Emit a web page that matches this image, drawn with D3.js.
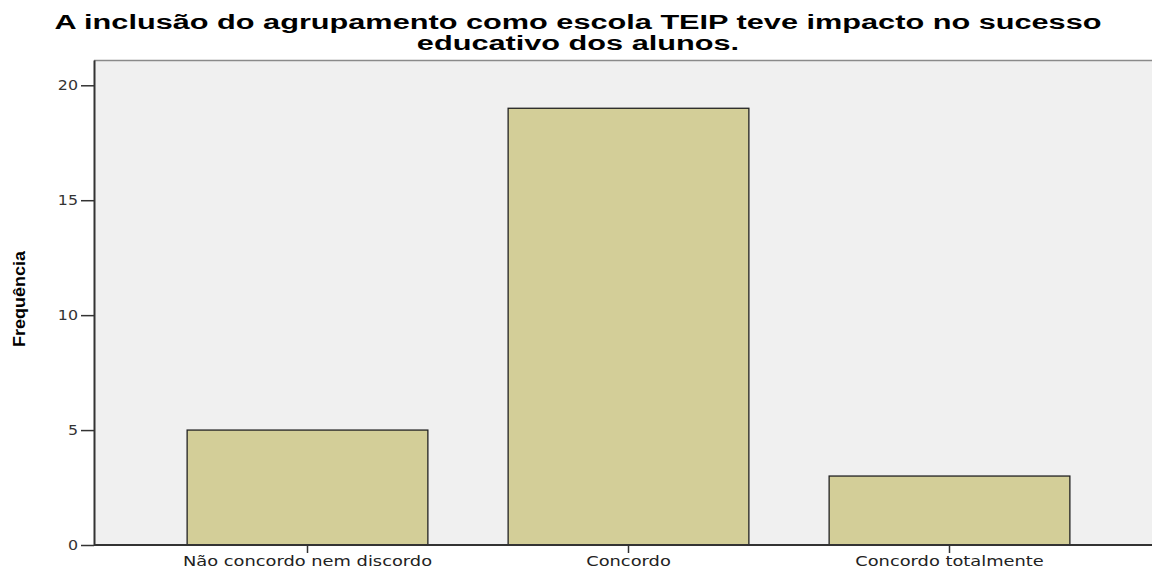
<!DOCTYPE html>
<html>
<head>
<meta charset="utf-8">
<script src="https://cdn.jsdelivr.net/npm/d3@7"></script>
<style>
  body { margin: 0; background: #fff; }
  svg { display: block; }
</style>
</head>
<body>
<svg id="chart"></svg>
<script>
// chart data
const categories = ["Não concordo nem discordo", "Concordo", "Concordo totalmente"];
const frequencies = [5, 19, 3];
const yTicks = [0, 5, 10, 15, 20];
const titleLines = ["A  inclusão do agrupamento como escola TEIP teve impacto no sucesso", "educativo dos alunos."];
const yLabel = "Frequência";

const W = 1152, H = 571;
const plot = { left: 94, top: 60, right: 1152, bottom: 545 };

const svg = d3.select("#chart").attr("width", W).attr("height", H);

const x = d3.scaleBand()
  .domain(categories)
  .range([147, 1110])
  .paddingInner(0.25)
  .paddingOuter(0.125);

const y = d3.scaleLinear()
  .domain([0, 21.1])
  .range([plot.bottom, plot.top]);

// plot background
svg.append("rect")
  .attr("x", plot.left)
  .attr("y", plot.top)
  .attr("width", plot.right - plot.left)
  .attr("height", plot.bottom - plot.top)
  .attr("fill", "#f0f0f0");

svg.append("line")
  .attr("x1", plot.left).attr("x2", plot.right)
  .attr("y1", plot.top + 0.5).attr("y2", plot.top + 0.5)
  .attr("stroke", "#8a8a8a").attr("stroke-width", 1.5);

// bars
svg.selectAll(".bar")
  .data(frequencies)
  .enter()
  .append("rect")
  .attr("class", "bar")
  .attr("x", (d, i) => x(categories[i]))
  .attr("y", d => y(d))
  .attr("width", x.bandwidth())
  .attr("height", d => y(0) - y(d))
  .attr("fill", "#d3ce98")
  .attr("stroke", "#222")
  .attr("stroke-width", 1.3);

// axes
const yAxis = d3.axisLeft(y).tickValues(yTicks).tickSize(13).tickPadding(3).tickSizeOuter(0);
const gy = svg.append("g")
  .attr("transform", "translate(" + plot.left + ",0)")
  .call(yAxis);
gy.select(".domain").attr("stroke", "#333").attr("stroke-width", 2);
gy.selectAll(".tick line").attr("stroke", "#333").attr("stroke-width", 1.5);
gy.selectAll(".tick text")
  .attr("font-family", "DejaVu Sans, sans-serif")
  .attr("font-size", 14)
  .attr("fill", "#333");

const xAxis = d3.axisBottom(x).tickSize(8).tickPadding(3).tickSizeOuter(0);
const gx = svg.append("g")
  .attr("transform", "translate(0," + plot.bottom + ")")
  .call(xAxis);
gx.select(".domain")
  .attr("d", "M" + plot.left + ",0H" + plot.right)
  .attr("stroke", "#333").attr("stroke-width", 2);
gx.selectAll(".tick line").attr("stroke", "#333").attr("stroke-width", 1.5);
gx.selectAll(".tick text")
  .attr("font-family", "DejaVu Sans, sans-serif")
  .attr("font-size", 13.5)
  .attr("fill", "#222");

// widen text to match the stretched look of the source
function widen(sel, k) {
  sel.each(function () {
    const w = this.getComputedTextLength();
    d3.select(this).attr("textLength", w * k).attr("lengthAdjust", "spacingAndGlyphs");
  });
}
widen(gy.selectAll(".tick text"), 1.13);
widen(gx.selectAll(".tick text"), 1.32);

// title
const title = svg.append("g");
title.selectAll("text")
  .data(titleLines)
  .enter()
  .append("text")
  .attr("x", 578)
  .attr("y", (d, i) => 29 + i * 20.5)
  .attr("text-anchor", "middle")
  .attr("font-family", "Liberation Sans, Arial, sans-serif")
  .attr("font-weight", "bold")
  .attr("font-size", 19.5)
  .attr("fill", "#000")
  .text(d => d);
const first = title.select("text").node().getComputedTextLength();
const k = 1047 / first;
widen(title.selectAll("text"), k);

// y axis label
svg.append("text")
  .attr("transform", "translate(25,299) rotate(-90)")
  .attr("text-anchor", "middle")
  .attr("font-family", "Liberation Sans Narrow, Arial Narrow, Liberation Sans, sans-serif")
  .attr("font-weight", "bold")
  .attr("font-size", 17)
  .attr("fill", "#000")
  .attr("textLength", 96)
  .attr("lengthAdjust", "spacingAndGlyphs")
  .text(yLabel);
</script>
</body>
</html>
